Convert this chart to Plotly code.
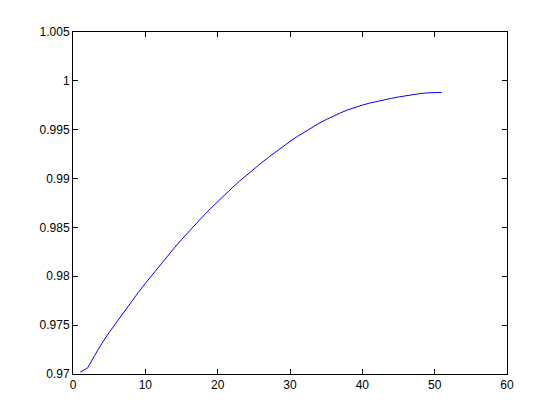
import plotly.graph_objects as go

x_vals = list(range(1, 52))
y_vals = [
    0.97020, 0.97060, 0.97190, 0.97315, 0.97425, 0.97530, 0.97635, 0.97735, 0.97832, 0.97927,
    0.98020, 0.98112, 0.98202, 0.98290, 0.98375, 0.98458, 0.98538, 0.98616, 0.98692, 0.98765,
    0.98836, 0.98905, 0.98972, 0.99036, 0.99098, 0.99158, 0.99216, 0.99272, 0.99327, 0.99380,
    0.99430, 0.99478, 0.99523, 0.99565, 0.99604, 0.99640, 0.99673, 0.99703, 0.99729, 0.99752,
    0.99772, 0.99790, 0.99806, 0.99821, 0.99835, 0.99848, 0.99860, 0.99870, 0.99877, 0.99880,
    0.99882,
]

x_ticks = [0, 10, 20, 30, 40, 50, 60]
x_tick_labels = ["0", "10", "20", "30", "40", "50", "60"]
y_ticks = [0.97, 0.975, 0.98, 0.985, 0.99, 0.995, 1.0, 1.005]
y_tick_labels = ["0.97", "0.975", "0.98", "0.985", "0.99", "0.995", "1", "1.005"]

fig = go.Figure()
fig.add_trace(go.Scatter(
    x=x_vals, y=y_vals, mode="lines",
    line=dict(color="#0000ff", width=1),
    showlegend=False,
))

axis_common = dict(
    showline=True, linecolor="black", linewidth=1, mirror="ticks",
    ticks="inside", ticklen=5, tickwidth=1, tickcolor="black",
    showgrid=False, zeroline=False,
    tickfont=dict(family="Liberation Sans, Arial, sans-serif", size=12, color="black"),
)

fig.update_xaxes(range=[0, 60], tickvals=x_ticks, ticktext=x_tick_labels, **axis_common)
fig.update_yaxes(range=[0.97, 1.005], tickvals=y_ticks, ticktext=y_tick_labels, **axis_common)

fig.update_layout(
    width=560, height=420,
    margin=dict(l=65, r=61, t=24, b=54),
    paper_bgcolor="white", plot_bgcolor="white",
)

fig.write_html("out.html")
